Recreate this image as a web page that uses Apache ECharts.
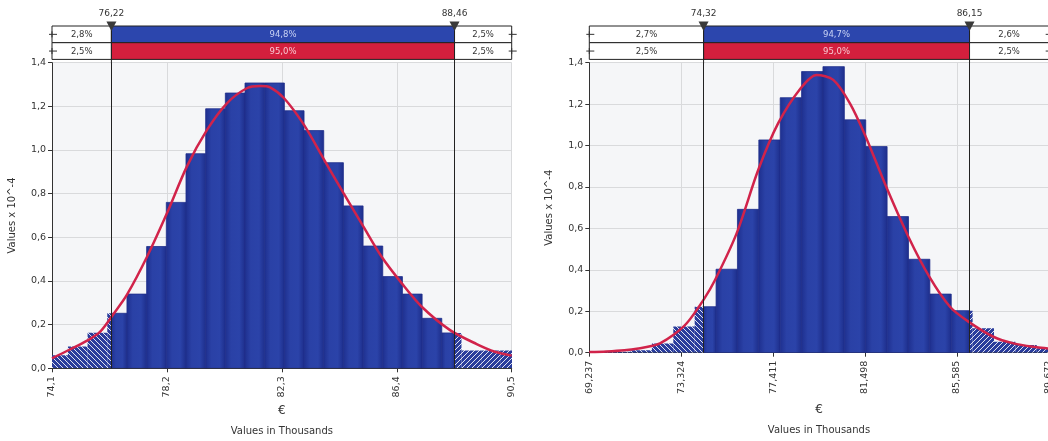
<!DOCTYPE html>
<html lang="en">
<head>
<meta charset="UTF-8">
<title>Histograms</title>
<script src="https://cdn.jsdelivr.net/npm/echarts@6/dist/echarts.min.js"></script>
<style>html,body{margin:0;padding:0;background:#fff;}</style>
</head>
<body>
<div id="main" style="width:1048px;height:441px;"></div>
<script>
var FONT = 'DejaVu Sans';

// ---------- left chart (values in thousands €, density x 10^-4)
var leftMin = 74.1, leftMax = 90.5;
var leftTicks = [74.1, 78.2, 82.3, 86.4, 90.5];
var leftEdges = [73.966, 74.668, 75.370, 76.072, 76.774, 77.476, 78.178, 78.880, 79.582, 80.284, 80.986, 81.688,
                 82.390, 83.092, 83.794, 84.496, 85.198, 85.900, 86.602, 87.304, 88.006, 88.708, 89.410, 90.112, 90.814];
var leftHeights = [0.060, 0.100, 0.163, 0.252, 0.340, 0.558, 0.760, 0.983, 1.189, 1.261, 1.307, 1.307,
                   1.180, 1.089, 0.942, 0.744, 0.560, 0.420, 0.340, 0.229, 0.162, 0.081, 0.081, 0.081];
var leftCurveX = [74.1, 74.72, 75.37, 75.82, 76.3, 76.77, 77.49, 78.2, 78.91, 79.63, 80.34, 81.05, 81.53,
                  81.88, 82.38, 83.09, 83.78, 84.5, 85.21, 85.86, 86.58, 87.29, 88.3, 89.25, 89.9, 90.5];
var leftCurveY = [0.046, 0.085, 0.128, 0.168, 0.25, 0.336, 0.511, 0.71, 0.924, 1.092, 1.214, 1.283, 1.293,
                  1.287, 1.237, 1.115, 0.962, 0.802, 0.649, 0.511, 0.389, 0.282, 0.175, 0.111, 0.076, 0.058];
var leftMarkers = [76.22, 88.46];
var leftMarkerLabels = ['76,22', '88,46'];
var leftRowData = ['2,8%', '94,8%', '2,5%'];
var leftRowFit = ['2,5%', '95,0%', '2,5%'];

// ---------- right chart
var rightMin = 69.237, rightMax = 89.672;
var rightTicks = [69.237, 73.324, 77.411, 81.498, 85.585, 89.672];
var rightEdges = [69.170, 70.121, 71.072, 72.023, 72.974, 73.925, 74.876, 75.827, 76.778, 77.729, 78.680, 79.631,
                  80.582, 81.533, 82.484, 83.435, 84.386, 85.337, 86.288, 87.239, 88.190, 89.141, 90.092];
var rightHeights = [0.002, 0.004, 0.012, 0.045, 0.126, 0.222, 0.403, 0.692, 1.027, 1.231, 1.357,
                    1.381, 1.124, 0.995, 0.657, 0.451, 0.283, 0.203, 0.118, 0.053, 0.037, 0.021];
var rightCurveX = [69.237, 70.0, 70.8, 71.5, 72.0, 72.38, 72.97, 73.57, 74.31, 74.83, 75.79, 76.75, 77.64, 78.64,
                   79.35, 80.09, 80.83, 81.5, 82.44, 83.43, 84.36, 85.28, 86.1, 87.21, 88.1, 89.14, 89.672];
var rightCurveY = [0.003, 0.006, 0.012, 0.022, 0.032, 0.045, 0.085, 0.142, 0.254, 0.351, 0.576, 0.882, 1.108, 1.277,
                   1.341, 1.317, 1.204, 1.051, 0.802, 0.560, 0.367, 0.222, 0.150, 0.077, 0.045, 0.026, 0.020];
var rightMarkers = [74.32, 86.15];
var rightMarkerLabels = ['74,32', '86,15'];
var rightRowData = ['2,7%', '94,7%', '2,6%'];
var rightRowFit = ['2,5%', '95,0%', '2,5%'];

// hatch tiles for the tails
function hatch(back) {
    var n = 5, c = document.createElement('canvas');
    c.width = n; c.height = n;
    var g = c.getContext('2d');
    g.fillStyle = '#2a3d9c';
    g.fillRect(0, 0, n, n);
    g.fillStyle = 'rgba(255,255,255,0.85)';
    for (var i = 0; i < n; i++) g.fillRect(back ? i : n - 1 - i, i, 1, 1);
    return c;
}
var hatchBack = {image: hatch(true), repeat: 'repeat'};
var hatchFwd = {image: hatch(false), repeat: 'repeat'};
var solidFill = new echarts.graphic.LinearGradient(0, 0, 1, 0, [
    {offset: 0, color: '#1e2f8e'}, {offset: 0.3, color: '#2a41a6'},
    {offset: 0.7, color: '#2b43a9'}, {offset: 1, color: '#1d2d8a'}
]);

function barRender(markers) {
    var lo = markers[0], hi = markers[1];
    return function (params, api) {
        var x0 = api.value(0), x1 = api.value(1), h = api.value(2);
        var parts = [[x0, Math.min(x1, lo), hatchBack], [Math.max(x0, lo), Math.min(x1, hi), solidFill],
                     [Math.max(x0, hi), x1, hatchFwd]];
        var children = [];
        parts.forEach(function (p) {
            if (p[1] <= p[0]) return;
            var a = api.coord([p[0], h]), b = api.coord([p[1], 0]);
            var st = p[2] === solidFill ? {fill: p[2], stroke: '#1f2f8c', lineWidth: 0.8} : {fill: p[2]};
            children.push({type: 'rect', shape: {x: a[0], y: a[1], width: b[0] - a[0], height: b[1] - a[1]},
                style: st});
        });
        return {type: 'group', children: children};
    };
}

function bandRender(edges, rows) {
    var fills = [['#fff', '#2c46ad', '#fff'], ['#fff', '#d41f3d', '#fff']];
    var textCol = [['#333', '#c8d2f4', '#333'], ['#333', '#f7c8d1', '#333']];
    return function (params, api) {
        var r = api.value(0), s = api.value(1);
        var a = api.coord([edges[s], r]), b = api.coord([edges[s + 1], r]);
        var hh = api.size([0, 1])[1];
        var ch = [
            {type: 'rect', shape: {x: a[0], y: a[1] - hh / 2, width: b[0] - a[0], height: hh},
             style: {fill: fills[r][s], stroke: '#222', lineWidth: 1}},
            {type: 'text', style: {text: rows[r][s], x: (a[0] + b[0]) / 2, y: a[1] + 0.5, align: 'center',
             verticalAlign: 'middle', fill: textCol[r][s], fontSize: 8.5, fontFamily: FONT}}
        ];
        var hx = s === 0 ? a[0] : (s === 2 ? b[0] : null);
        if (hx !== null) {
            ch.push({type: 'line', shape: {x1: hx - 3, y1: a[1], x2: hx + 5, y2: a[1]}, style: {stroke: '#333', lineWidth: 1}});
            ch.push({type: 'line', shape: {x1: hx, y1: a[1] - 3, x2: hx, y2: a[1] + 3}, style: {stroke: '#333', lineWidth: 1}});
        }
        return {type: 'group', children: ch};
    };
}

function markerRender(labels) {
    return function (params, api) {
        var x = api.coord([api.value(0), 0])[0];
        var cs = params.coordSys, top = cs.y, bottom = cs.y + cs.height;
        return {type: 'group', children: [
            {type: 'line', shape: {x1: x, y1: top, x2: x, y2: bottom + 4}, style: {stroke: '#222', lineWidth: 1}},
            {type: 'polygon', shape: {points: [[x - 5, top - 4.5], [x + 5, top - 4.5], [x, top + 5]]}, style: {fill: '#3a3a3a'}},
            {type: 'text', style: {text: labels[params.dataIndex], x: x, y: top - 12, align: 'center',
             verticalAlign: 'middle', fill: '#333', fontSize: 9, fontFamily: FONT}}
        ]};
    };
}

var grids = [
    {left: 52, top: 62.7, right: 536.3, bottom: 72.7, show: true, backgroundColor: '#f5f6f8', borderWidth: 0, outerBoundsMode: 'none'},
    {left: 52, top: 26, right: 536.3, height: 33.4, outerBoundsMode: 'none'},
    {left: 589.3, top: 62.7, right: -0.7, bottom: 88.3, show: true, backgroundColor: '#f5f6f8', borderWidth: 0, outerBoundsMode: 'none'},
    {left: 589.3, top: 26, right: -0.7, height: 33.4, outerBoundsMode: 'none'}
];

function mainX(gi, min, max, ticks, dec, gap) {
    return {
        gridIndex: gi, type: 'value', min: min, max: max,
        name: '{e|€}\n{t|Values in Thousands}', nameLocation: 'middle', nameGap: gap,
        nameTextStyle: {rich: {
            e: {fontSize: 12, fontFamily: FONT, color: '#333', lineHeight: 18, align: 'center'},
            t: {fontSize: 10, fontFamily: FONT, color: '#333', lineHeight: 22, align: 'center'}
        }},
        axisLine: {onZero: false, lineStyle: {color: '#333'}},
        axisTick: {customValues: ticks, length: 4, lineStyle: {color: '#333'}},
        axisLabel: {customValues: ticks, rotate: 90, margin: 8, color: '#333', fontSize: 9.5, fontFamily: FONT,
            formatter: function (v) { return v.toFixed(dec).replace('.', ','); }},
        splitLine: {show: true, lineStyle: {color: '#d9dadc'}}
    };
}
function mainY(gi) {
    return {
        gridIndex: gi, type: 'value', min: 0, max: 1.4, interval: 0.2,
        name: 'Values x 10^-4', nameLocation: 'middle', nameGap: 35,
        nameTextStyle: {fontSize: 10, fontFamily: FONT, color: '#333'},
        axisLine: {show: true, lineStyle: {color: '#333'}},
        axisTick: {show: true, length: 4, lineStyle: {color: '#333'}},
        axisLabel: {margin: 6, color: '#333', fontSize: 9.5, fontFamily: FONT,
            formatter: function (v) { return v.toFixed(1).replace('.', ','); }},
        splitLine: {show: true, lineStyle: {color: '#d9dadc'}}
    };
}
function bandX(gi, min, max) {
    return {gridIndex: gi, type: 'value', min: min, max: max, show: false, splitLine: {show: false}};
}
function bandY(gi) {
    return {gridIndex: gi, type: 'category', data: ['data', 'fit'], inverse: true, show: false};
}

function zipBins(edges, heights) {
    return heights.map(function (h, i) { return [edges[i], edges[i + 1], h]; });
}
function zipCurve(xs, ys) {
    return xs.map(function (x, i) { return [x, ys[i]]; });
}
var bandCells = [[0, 0], [0, 1], [0, 2], [1, 0], [1, 1], [1, 2]];

function chartSeries(xi, bi, edges, heights, cx, cy, markers, labels, rowD, rowF, min, max) {
    var bandEdges = [min, markers[0], markers[1], max];
    return [
        {type: 'custom', xAxisIndex: xi, yAxisIndex: xi, clip: true, renderItem: barRender(markers),
         data: zipBins(edges, heights), encode: {x: [0, 1], y: 2}, silent: true},
        {type: 'line', xAxisIndex: xi, yAxisIndex: xi, data: zipCurve(cx, cy), smooth: 0.3, showSymbol: false,
         lineStyle: {color: '#d1234a', width: 2.5}, silent: true,
         markLine: {silent: true, symbol: ['none', 'none'], label: {show: false},
             lineStyle: {color: '#222', width: 1, type: 'solid'},
             data: markers.map(function (m) { return {xAxis: m}; })}},
        {type: 'custom', xAxisIndex: bi, yAxisIndex: bi, renderItem: bandRender(bandEdges, [rowD, rowF]),
         data: bandCells, silent: true},
        {type: 'custom', xAxisIndex: bi, yAxisIndex: bi, renderItem: markerRender(labels),
         data: markers.map(function (m) { return [m, 0]; }), silent: true, z: 5}
    ];
}

var chart = echarts.init(document.getElementById('main'));
chart.setOption({
    animation: false,
    backgroundColor: '#fff',
    grid: grids,
    xAxis: [mainX(0, leftMin, leftMax, leftTicks, 1, 33), bandX(1, leftMin, leftMax),
            mainX(2, rightMin, rightMax, rightTicks, 3, 48.6), bandX(3, rightMin, rightMax)],
    yAxis: [mainY(0), bandY(1), mainY(2), bandY(3)],
    series: chartSeries(0, 1, leftEdges, leftHeights, leftCurveX, leftCurveY, leftMarkers, leftMarkerLabels,
                        leftRowData, leftRowFit, leftMin, leftMax)
        .concat(chartSeries(2, 3, rightEdges, rightHeights, rightCurveX, rightCurveY, rightMarkers, rightMarkerLabels,
                            rightRowData, rightRowFit, rightMin, rightMax))
});
</script>
</body>
</html>
